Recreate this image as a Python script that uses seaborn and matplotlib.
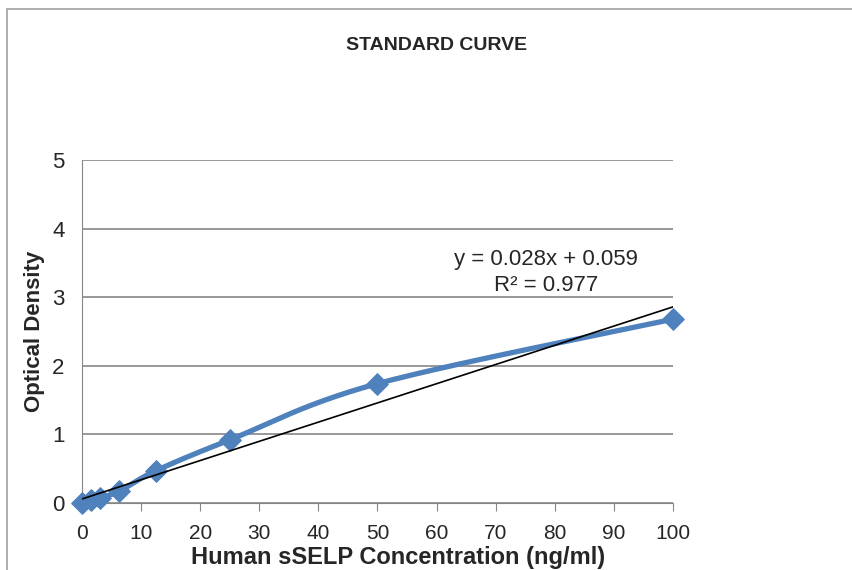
import numpy as np
import pandas as pd
import seaborn as sns
import matplotlib.pyplot as plt
from matplotlib.patches import Rectangle

# standard concentrations (ng/ml) and measured optical density
concentration = [0, 1.5625, 3.125, 6.25, 12.5, 25, 50, 100]
optical_density = [0.0, 0.04, 0.08, 0.17, 0.47, 0.92, 1.74, 2.68]

# linear trendline shown on the chart
slope = 0.028
intercept = 0.059
r_squared = 0.977

x_ticks = [0, 10, 20, 30, 40, 50, 60, 70, 80, 90, 100]
y_ticks = [0, 1, 2, 3, 4, 5]

blue = '#4F81BD'
grey = '#868686'

sns.set_style('white')
plt.rcParams['font.family'] = ['Liberation Sans Narrow', 'Liberation Sans', 'DejaVu Sans']

df = pd.DataFrame({'conc': concentration, 'od': optical_density})


def smooth_curve(x, y, n=30):
    # Catmull-Rom style smoothing similar to Excel's "smoothed line"
    x = np.asarray(x, float)
    y = np.asarray(y, float)
    px = np.concatenate([[x[0]], x, [x[-1]]])
    py = np.concatenate([[y[0]], y, [y[-1]]])
    xs, ys = [], []
    t = np.linspace(0, 1, n)
    for i in range(1, len(px) - 2):
        p0, p1, p2, p3 = [np.array([px[j], py[j]]) for j in (i - 1, i, i + 1, i + 2)]
        m1 = (p2 - p0) / 2
        m2 = (p3 - p1) / 2
        h00 = 2 * t**3 - 3 * t**2 + 1
        h10 = t**3 - 2 * t**2 + t
        h01 = -2 * t**3 + 3 * t**2
        h11 = t**3 - t**2
        pts = np.outer(h00, p1) + np.outer(h10, m1) + np.outer(h01, p2) + np.outer(h11, m2)
        xs.extend(pts[:, 0])
        ys.extend(pts[:, 1])
    return pd.DataFrame({'conc': xs, 'od': ys})


curve = smooth_curve(concentration, optical_density)
trend = pd.DataFrame({'conc': [0, 100]})
trend['od'] = slope * trend['conc'] + intercept

fig = plt.figure(figsize=(8.53, 5.70), dpi=100)
ax = fig.add_axes([82 / 853, 1 - 503 / 570, (673 - 82) / 853, (503 - 160) / 570])

# outer chart frame
fig.patches.append(Rectangle((7 / 853, -0.1), 1.2, 1 - 9 / 570 + 0.1, transform=fig.transFigure,
                             fill=False, edgecolor='#A0A0A0', linewidth=1.2))

sns.lineplot(data=curve, x='conc', y='od', ax=ax, color=blue, linewidth=3.8, sort=False,
             estimator=None, clip_on=False, zorder=3)
sns.scatterplot(data=df, x='conc', y='od', ax=ax, marker='D', s=120, color=blue,
                edgecolor=blue, clip_on=False, zorder=4)
sns.lineplot(data=trend, x='conc', y='od', ax=ax, color='black', linewidth=1.2, zorder=5)

ax.set_xlim(0, 100)
ax.set_ylim(0, 5)
ax.set_xticks(x_ticks)
ax.set_yticks(y_ticks)
ax.yaxis.grid(True, color=grey, linewidth=1.2)
ax.set_axisbelow(True)
for s in ['top', 'right']:
    ax.spines[s].set_visible(False)
ax.spines['left'].set_color(grey)
ax.spines['bottom'].set_color(grey)
ax.tick_params(axis='x', bottom=True, length=6, color=grey, labelsize=15, pad=9)
ax.tick_params(axis='y', left=False, labelsize=16, pad=9)

ax.set_xlabel('Human sSELP Concentration (ng/ml)', fontsize=17, fontweight='bold')
ax.xaxis.set_label_coords((398 - 82) / 591, (503 - 546) / 343)
ax.set_ylabel('Optical Density', fontsize=16, fontweight='bold')
ax.yaxis.set_label_coords((45 - 82) / 591, 0.5)

fig.text(437 / 853, 1 - 45 / 570, 'STANDARD CURVE', ha='center', va='center',
         fontsize=14, fontweight='bold')
ax.text(0.785, 0.673, f'y = {slope}x + {intercept}\nR² = {r_squared}', transform=ax.transAxes,
        ha='center', va='center', fontsize=16, linespacing=1.3)

fig.savefig('out.png', dpi=100)
